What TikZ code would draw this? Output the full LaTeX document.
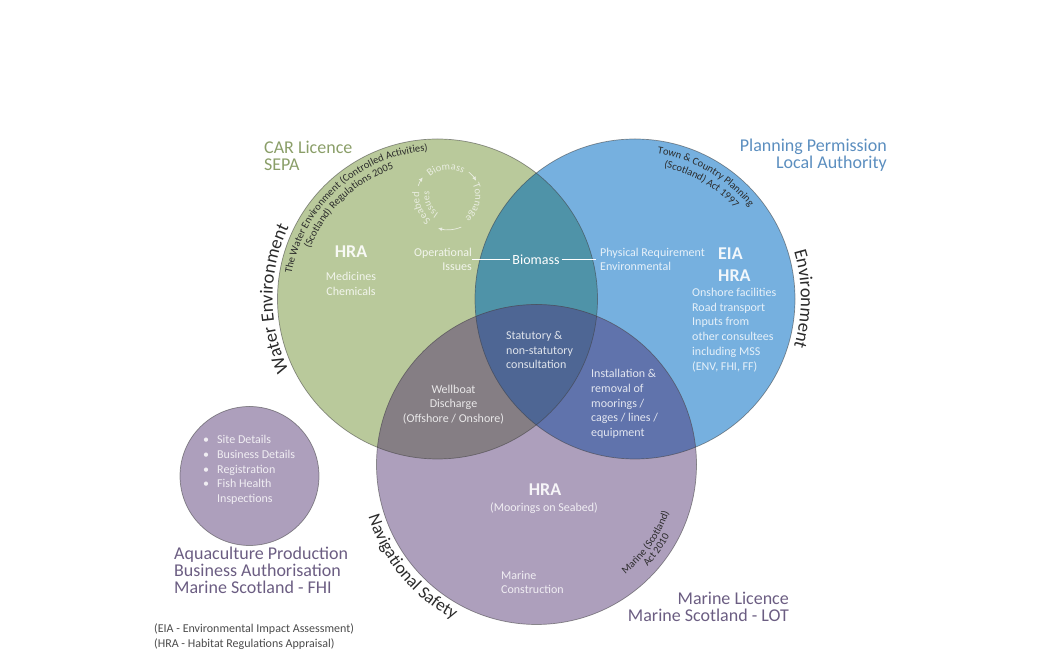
\documentclass[tikz,border=0pt]{standalone}
\usepackage{fontspec}
\setmainfont{Carlito}
\usetikzlibrary{decorations.text,arrows.meta}
\definecolor{greenfill}{HTML}{B9C99B}
\definecolor{bluefill}{HTML}{76B0DF}
\definecolor{purplefill}{HTML}{AD9FBC}
\definecolor{greenblue}{HTML}{4F93A8}
\definecolor{greenpurple}{HTML}{857E84}
\definecolor{bluepurple}{HTML}{6073AC}
\definecolor{allthree}{HTML}{4E6694}
\definecolor{greentitle}{HTML}{8A9E68}
\definecolor{bluetitle}{HTML}{5B8EBF}
\definecolor{purpletitle}{HTML}{6B5D82}
\definecolor{softgreen}{HTML}{E9EDE0}
\definecolor{darktxt}{HTML}{2B2B2B}
\newcommand{\bodyfont}{\fontsize{12}{14.7}\selectfont}
\newcommand{\titlefont}{\fontsize{18}{16.8}\selectfont}
% text on an arc: font, centre, radius, start angle, end angle, text
\newcommand{\arctext}[6]{
  \path[decorate,decoration={text along path,text align=center,text={|#1|#6}}]
    (#2) ++(#4:#3) arc[start angle=#4,end angle=#5,radius=#3];
}
\tikzset{
  body/.style={font=\bodyfont,text=white,text opacity=.82,inner sep=0pt},
  heading/.style={font=\fontsize{18}{22}\selectfont\bfseries,text=white,text opacity=.9,inner sep=0pt},
  title/.style={font=\titlefont,inner sep=0pt},
  ring/.style={draw=black!75,draw opacity=.55,line width=.7pt},
  cycle/.style={draw=softgreen,line width=.7pt,-{Latex[length=4pt,width=4pt]}}
}
\begin{document}
\begin{tikzpicture}[x=1pt,y=1pt]
  \useasboundingbox (0,0) rectangle (1058,660);
  \coordinate (greenc) at (437.5,361);
  \coordinate (bluec) at (635,361);
  \coordinate (purplec) at (536.5,195.5);
  \coordinate (cyclec) at (448.3,463.3);
  \fill[greenfill] (greenc) circle (160);
  \fill[bluefill] (bluec) circle (160);
  \fill[purplefill] (purplec) circle (160);
  \begin{scope}
    \clip (greenc) circle (160);
    \fill[greenblue] (bluec) circle (160);
    \fill[greenpurple] (purplec) circle (160);
  \end{scope}
  \begin{scope}
    \clip (bluec) circle (160);
    \fill[bluepurple] (purplec) circle (160);
    \clip (greenc) circle (160);
    \fill[allthree] (purplec) circle (160);
  \end{scope}
  \draw[ring] (greenc) circle (160);
  \draw[ring] (bluec) circle (160);
  \draw[ring] (purplec) circle (160);
  \node[circle,minimum size=139pt,inner sep=0pt,fill=purplefill,ring] (details) at (249.5,184) {};

  % titles
  \node[title,text=greentitle,align=left,anchor=west] (cartitle) at (264,504.5) {CAR Licence\\SEPA};
  \node[title,text=bluetitle,align=right,anchor=east] (plantitle) at (887,504.5) {Planning Permission\\Local Authority};
  \node[title,text=purpletitle,align=right,anchor=east] (marinetitle) at (789,53) {Marine Licence\\Marine Scotland - LOT};
  \node[title,text=purpletitle,align=left,anchor=west] (fhititle) at (174,89.5) {Aquaculture Production\\Business Authorisation\\Marine Scotland - FHI};
  \node[font=\fontsize{12}{15.5}\selectfont,text=darktxt!85,align=left,anchor=west,inner sep=0pt] (legend) at (154,23.5)
    {(EIA - Environmental Impact Assessment)\\(HRA - Habitat Regulations Appraisal)};

  % green circle
  \node[heading] (greenhra) at (351,408) {HRA};
  \node[body,align=center] (medicines) at (351,376) {Medicines\\Chemicals};
  \node[body,align=right,anchor=east] (opissues) at (472,400.5) {Operational\\Issues};
  \node[font=\fontsize{14}{15}\selectfont,text=white,inner sep=2pt] (biomass) at (536,400.5) {Biomass};
  \node[body,align=left,anchor=west] (physical) at (600,400.5) {Physical Requirement\\Environmental};
  \draw[white,line width=1.1pt] (opissues.east) -- (biomass.west);
  \draw[white,line width=1.1pt] (biomass.east) -- ([xshift=-4pt]physical.west);

  % blue circle
  \node[heading,align=left,anchor=west] (bluehra) at (718,395) {EIA\\HRA};
  \node[body,align=left,anchor=west] (onshore) at (692,330) {Onshore facilities\\Road transport\\Inputs from\\other consultees\\including MSS\\(ENV, FHI, FF)};

  % overlaps
  \node[body,align=left,anchor=west] (statutory) at (506,310) {Statutory \&\\non-statutory\\consultation};
  \node[body,align=left,anchor=west] (moorings) at (591,256) {Installation \&\\removal of\\moorings /\\cages / lines /\\equipment};
  \node[body,align=center] (wellboat) at (453.5,255.5) {Wellboat\\Discharge\\(Offshore / Onshore)};

  % purple circle
  \node[heading] (purplehra) at (545,170) {HRA};
  \node[body] (seabed) at (544,152) {(Moorings on Seabed)};
  \node[body,align=left,anchor=west] (construction) at (501,77.5) {Marine\\Construction};

  % small circle
  \node[body,align=left,anchor=west] (detaillist) at (203,190)
    {\makebox[14pt][l]{\textbullet}Site Details\\
     \makebox[14pt][l]{\textbullet}Business Details\\
     \makebox[14pt][l]{\textbullet}Registration\\
     \makebox[14pt][l]{\textbullet}Fish Health\\
     \makebox[14pt][l]{}Inspections};

  % text on arcs
  \arctext{\fontsize{10.5}{10}\selectfont\color{darktxt}}{greenc}{148}{176}{88}{The Water Environment (Controlled Activities)}
  \arctext{\fontsize{10.5}{10}\selectfont\color{darktxt}}{greenc}{137}{165}{102}{(Scotland) Regulations 2005}
  \arctext{\fontsize{10.5}{10}\selectfont\color{darktxt}}{bluec}{147}{90}{30}{Town {\&} Country Planning}
  \arctext{\fontsize{10.5}{10}\selectfont\color{darktxt}}{bluec}{135}{88}{32}{(Scotland) Act 1997}
  \arctext{\fontsize{10.5}{10}\selectfont\color{darktxt}}{purplec}{141}{-55}{-16}{Marine (Scotland)}
  \arctext{\fontsize{10.5}{10}\selectfont\color{darktxt}}{purplec}{151}{-50}{-21}{Act 2010}
  \arctext{\fontsize{18.5}{20}\selectfont\color{darktxt}}{greenc}{165}{210}{150}{Water Environment}
  \arctext{\fontsize{18.5}{20}\selectfont\color{darktxt}}{bluec}{166}{22}{-22}{Environment}
  \arctext{\fontsize{17.5}{20}\selectfont\color{darktxt}}{purplec}{176}{192}{247}{Navigational Safety}

  % small cycle
  \arctext{\fontsize{10.5}{10}\selectfont\color{softgreen}}{cyclec}{27}{145}{45}{Biomass}
  \arctext{\fontsize{10.5}{10}\selectfont\color{softgreen}}{cyclec}{27}{35}{-60}{Tonnage}
  \arctext{\fontsize{10.5}{10}\selectfont\color{softgreen}}{cyclec}{29}{245}{160}{Seabed}
  \arctext{\fontsize{10}{10}\selectfont\color{softgreen}}{cyclec}{19}{255}{150}{Issues}
  \draw[cycle] (cyclec) ++(160:32) arc[start angle=160,end angle=143,radius=32];
  \draw[cycle] (cyclec) ++(50:32) arc[start angle=50,end angle=30,radius=32];
  \draw[cycle] (cyclec) ++(-67:33) arc[start angle=-67,end angle=-108,radius=33];
\end{tikzpicture}
\end{document}
